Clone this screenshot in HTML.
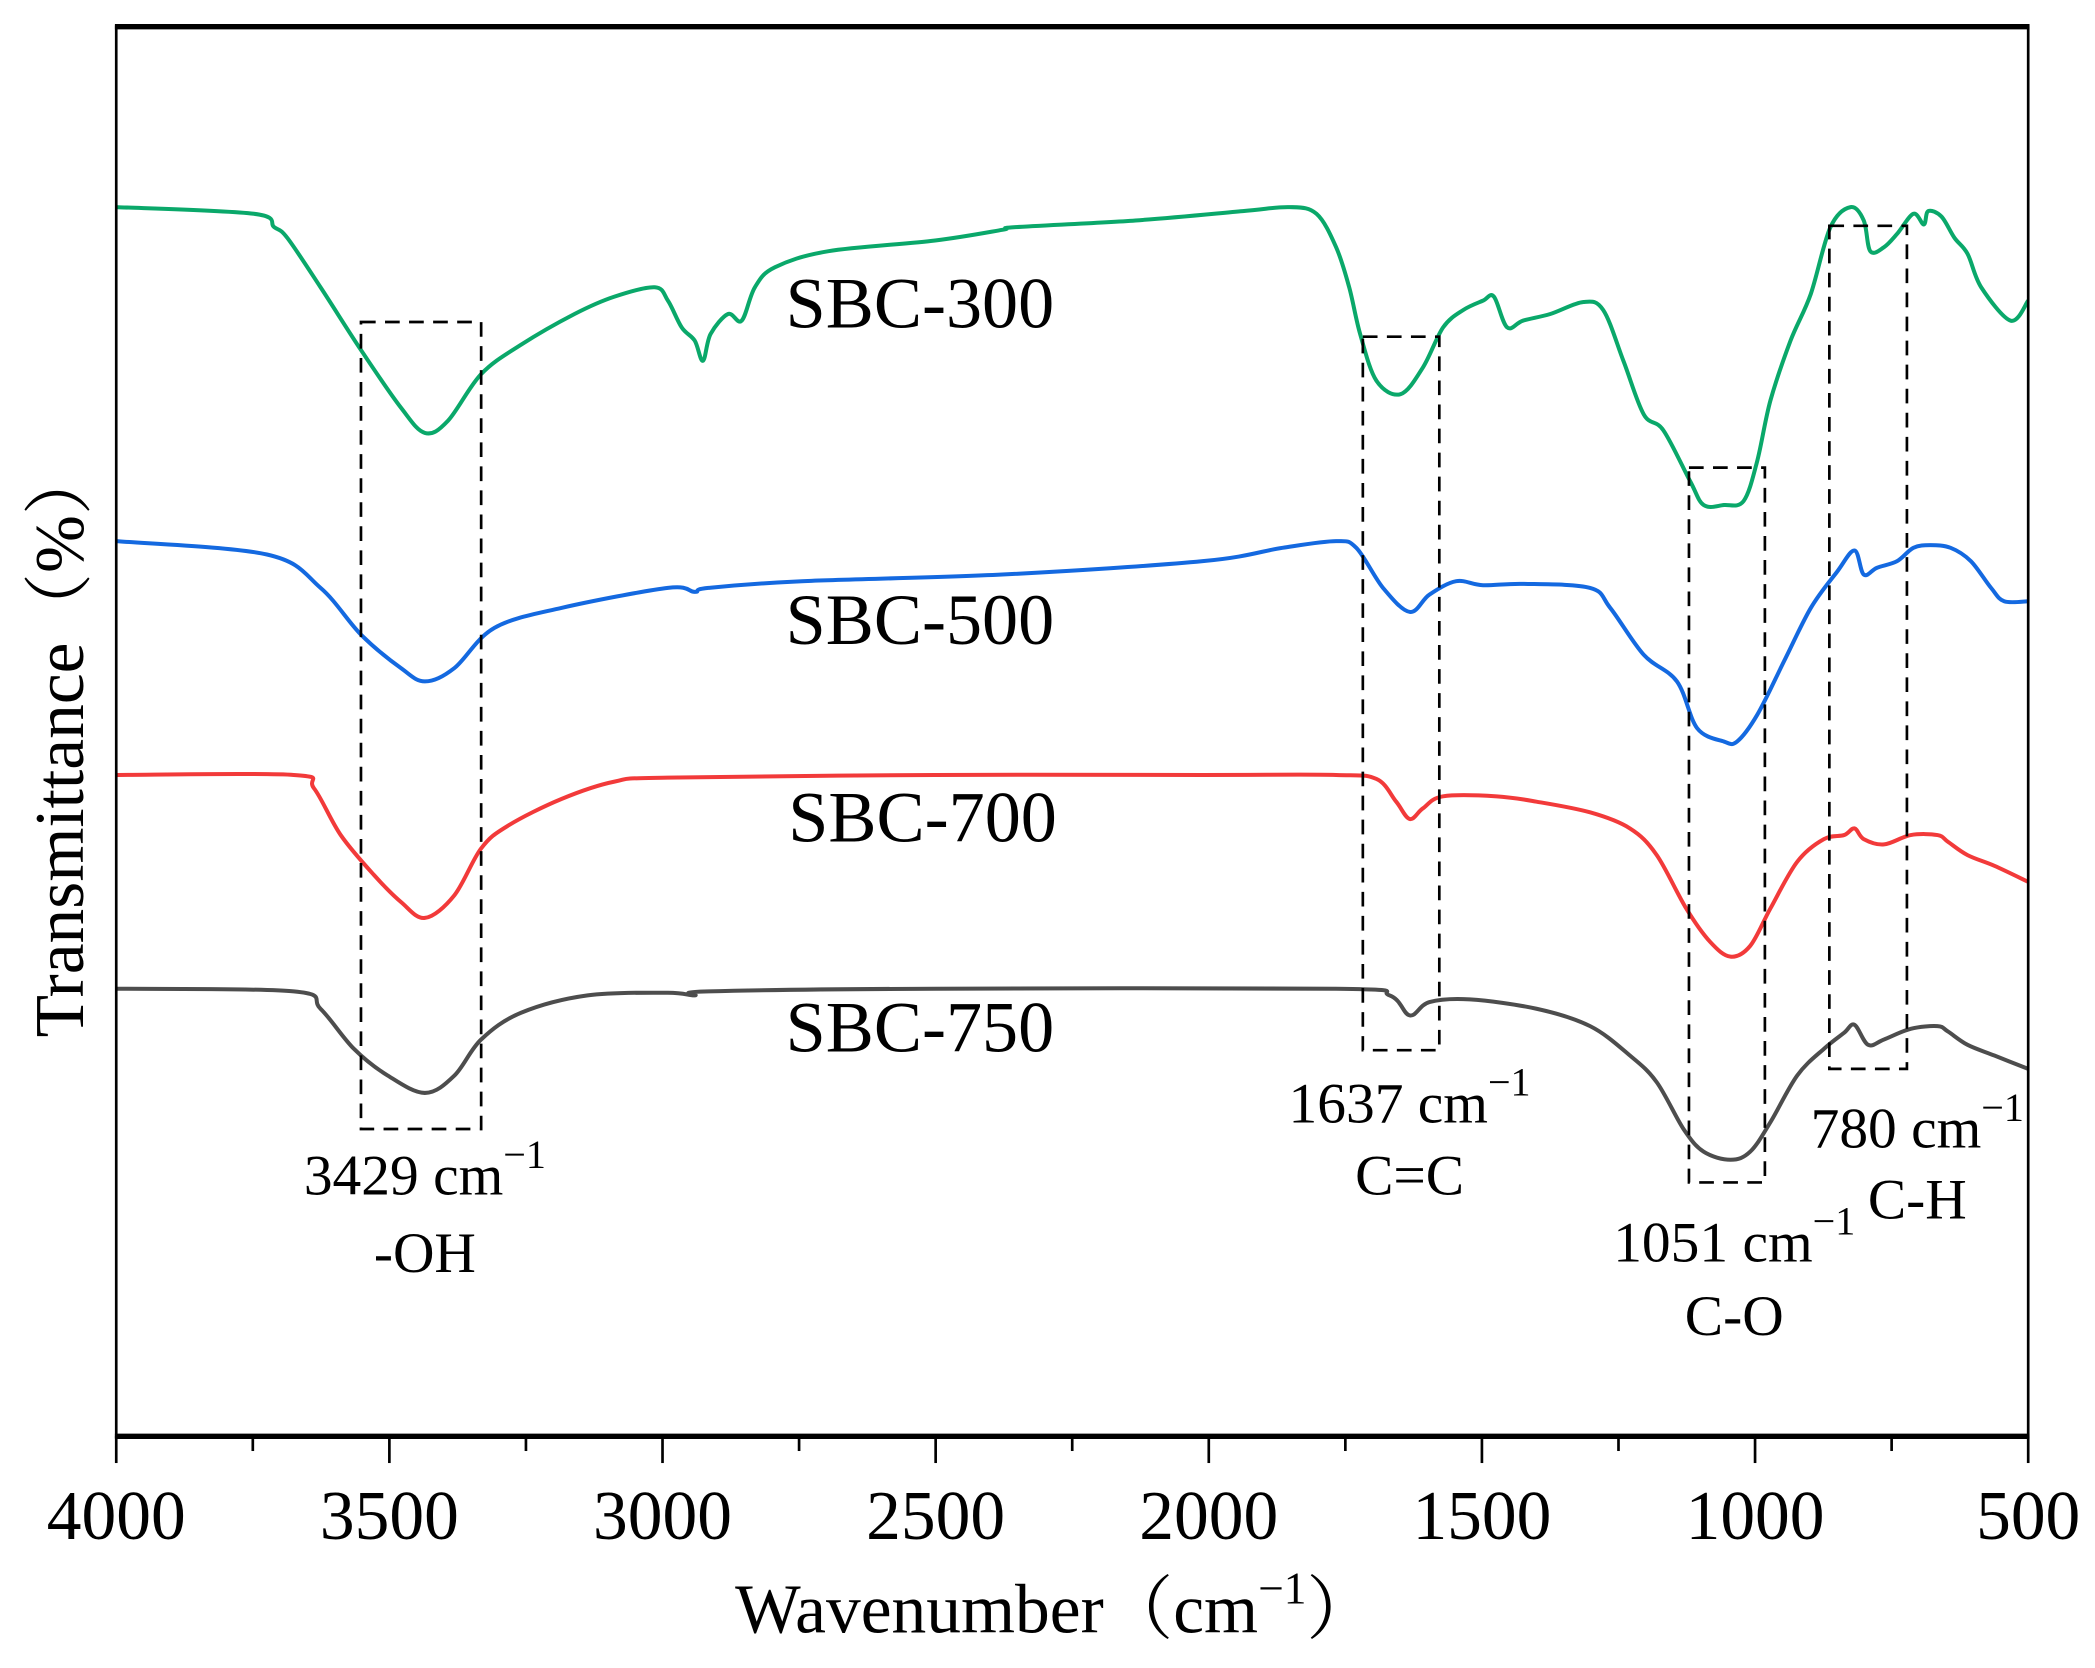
<!DOCTYPE html>
<html><head><meta charset="utf-8"><style>
html,body{margin:0;padding:0;background:#fff;}
svg{display:block;}
text{font-family:"Liberation Serif","Noto Serif CJK SC",serif;fill:#000;}
</style></head><body>
<svg id="chart" width="2095" height="1668" viewBox="0 0 1568 1248.4" preserveAspectRatio="none" xmlns="http://www.w3.org/2000/svg">
<g id="plot"></g>
<g id="axes"></g>
<text x="318" y="894" font-size="43" text-anchor="middle">3429 cm<tspan dy="-20" font-size="30">−1</tspan></text>
<text x="318" y="952" font-size="43" text-anchor="middle">-OH</text>
<text x="1055" y="840" font-size="43" text-anchor="middle">1637 cm<tspan dy="-20" font-size="30">−1</tspan></text>
<text x="1055" y="894" font-size="43" text-anchor="middle">C=C</text>
<text x="1298" y="944" font-size="43" text-anchor="middle">1051 cm<tspan dy="-20" font-size="30">−1</tspan></text>
<text x="1298" y="999" font-size="43" text-anchor="middle">C-O</text>
<text x="1435" y="859" font-size="43" text-anchor="middle">780 cm<tspan dy="-20" font-size="30">−1</tspan></text>
<text x="1435" y="912" font-size="43" text-anchor="middle">C-H</text>
<text x="588" y="245" font-size="54">SBC-300</text>
<text x="588" y="482" font-size="54">SBC-500</text>
<text x="590" y="630" font-size="54">SBC-700</text>
<text x="588" y="787" font-size="54">SBC-750</text>
<text x="790" y="1222" font-size="52" text-anchor="middle">Wavenumber（cm<tspan dy="-22" font-size="34">−1</tspan><tspan dy="22">）</tspan></text>
<text transform="translate(62,555) rotate(-90)" font-size="52" text-anchor="middle">Transmittance（%）</text>
</svg>
<script>
const xTicks = [4000,3500,3000,2500,2000,1500,1000,500];
const minorTicks = [3750,3250,2750,2250,1750,1250,750];
const wn300 = [4000,3748,3711,3687,3626,3552,3479,3435,3393,3332,3259,3161,3088,3014,2990,2965,2941,2926,2912,2880,2855,2831,2794,2696,2501,2378,2354,2134,1938,1852,1803,1767,1743,1723,1693,1649,1608,1571,1534,1498,1478,1454,1425,1375,1314,1278,1241,1204,1168,1119,1094,1057,1021,996,972,935,898,862,825,801,789,764,740,710,691,683,659,635,611,586,532,500];
const t300 = [920,915,905,897,860,813,770,751,760,795,817,840,853,860,850,830,820,805,825,840,835,860,875,887,895,903,905,910,917,920,915,890,860,825,790,780,800,830,843,850,853,830,835,840,849,843,805,765,753,715,697,697,700,730,775,820,855,905,920,910,887,890,900,915,907,917,913,897,885,860,835,850];
const wn500 = [4000,3724,3626,3552,3479,3435,3381,3308,3185,2990,2941,2916,2745,2378,2011,1865,1767,1730,1681,1632,1596,1547,1498,1424,1302,1265,1204,1143,1106,1057,1033,996,947,898,850,818,801,777,740,710,679,642,605,568,544,500];
const t500 = [670,660,635,600,575,565,575,605,620,635,632,635,640,645,655,665,670,665,635,617,630,640,637,638,635,620,585,565,530,520,520,540,580,620,647,663,645,650,655,665,667,665,655,635,625,625];
const wn700 = [4000,3675,3638,3589,3528,3479,3435,3381,3332,3283,3185,3088,2990,2501,2011,1767,1693,1657,1632,1608,1571,1473,1400,1302,1229,1180,1126,1082,1045,1009,972,923,874,837,818,801,764,715,666,647,611,562,500];
const t700 = [495,495,485,450,420,400,388,405,440,457,477,490,493,495,495,495,492,475,462,470,479,479,475,467,455,435,395,370,359,367,395,430,447,450,455,447,443,450,450,445,435,427,415];
const wn750 = [4000,3675,3626,3565,3503,3435,3381,3332,3259,3137,2990,2941,2916,2501,1767,1669,1632,1596,1522,1400,1302,1229,1180,1131,1094,1045,1009,972,923,874,837,818,793,764,715,666,647,611,562,500];
const t750 = [335,333,320,290,270,257,270,297,317,330,332,330,333,335,335,330,315,325,327,320,307,285,265,230,213,207,213,235,270,290,302,308,293,297,305,307,303,293,285,275];
const boxWn = [[3552,3332],[1718,1578],[1121,982],[864,722]];
const boxT = [[834,230],[823,289],[725,190],[906,275]];
const boxNames = ['box-oh','box-cc','box-co','box-ch'];

const X0=87,X1=1518,Y0=1075,Y1=20;
function xScale(w){return X0+(4000-w)*(X1-X0)/3500;}
function yScale(v){return Y0-v*(Y0-Y1)/1055;}
const NS='http://www.w3.org/2000/svg';
const plotG=document.getElementById('plot');
const axesG=document.getElementById('axes');
function mk(tag,attrs,parent){const e=document.createElementNS(NS,tag);for(const k in attrs)e.setAttribute(k,attrs[k]);parent.appendChild(e);return e;}
function smoothPath(pts){
  let d='M'+pts[0][0].toFixed(1)+','+pts[0][1].toFixed(1);
  for(let i=0;i<pts.length-1;i++){
    const p0=pts[Math.max(0,i-1)],p1=pts[i],p2=pts[i+1],p3=pts[Math.min(pts.length-1,i+2)];
    const c1x=p1[0]+(p2[0]-p0[0])/6,c1y=p1[1]+(p2[1]-p0[1])/6;
    const c2x=p2[0]-(p3[0]-p1[0])/6,c2y=p2[1]-(p3[1]-p1[1])/6;
    d+=' C'+c1x.toFixed(1)+','+c1y.toFixed(1)+' '+c2x.toFixed(1)+','+c2y.toFixed(1)+' '+p2[0].toFixed(1)+','+p2[1].toFixed(1);
  }
  return d;
}

const seriesList=[[wn300,t300,'#0aa86a','series-sbc-300'],[wn500,t500,'#1469e0','series-sbc-500'],[wn700,t700,'#f23a3a','series-sbc-700'],[wn750,t750,'#4d4d4d','series-sbc-750']];
seriesList.forEach(s=>{
  const pts=s[0].map((w,i)=>[xScale(w),yScale(s[1][i])]);
  const p=mk('path',{d:smoothPath(pts),fill:'none',stroke:s[2],'stroke-width':3,'stroke-linejoin':'round'},plotG);
  
  
});
boxWn.forEach((b,i)=>{
  const bx=xScale(b[0]),bx2=xScale(b[1]),by=yScale(boxT[i][0]),by2=yScale(boxT[i][1]);
  const r=mk('rect',{x:bx,y:by,width:bx2-bx,height:by2-by,fill:'none',stroke:'#000','stroke-width':2,'stroke-dasharray':'11,7'},plotG);
  
  
});
const frameRect=mk('rect',{x:X0,y:Y1,width:X1-X0,height:Y0-Y1,fill:'none',stroke:'#000','stroke-width':2},axesG);


const topAxis=mk('line',{x1:X0-1,x2:X1+1,y1:Y1,y2:Y1,stroke:'#000','stroke-width':4},axesG);


const botAxis=mk('line',{x1:X0-1,x2:X1+1,y1:Y0,y2:Y0,stroke:'#000','stroke-width':4},axesG);


xTicks.forEach(t=>{
  const tx0=xScale(t);
  const l=mk('line',{x1:tx0,x2:tx0,y1:Y0,y2:Y0+20,stroke:'#000','stroke-width':2},axesG);
  
  
  const tx=mk('text',{x:tx0,y:1152,'font-size':52,'text-anchor':'middle'},axesG);
  tx.textContent=t;
  
  
});
minorTicks.forEach(t=>{
  const mx=xScale(t);
  const l=mk('line',{x1:mx,x2:mx,y1:Y0,y2:Y0+11,stroke:'#000','stroke-width':2},axesG);
  
  
});
</script>
</body></html>
